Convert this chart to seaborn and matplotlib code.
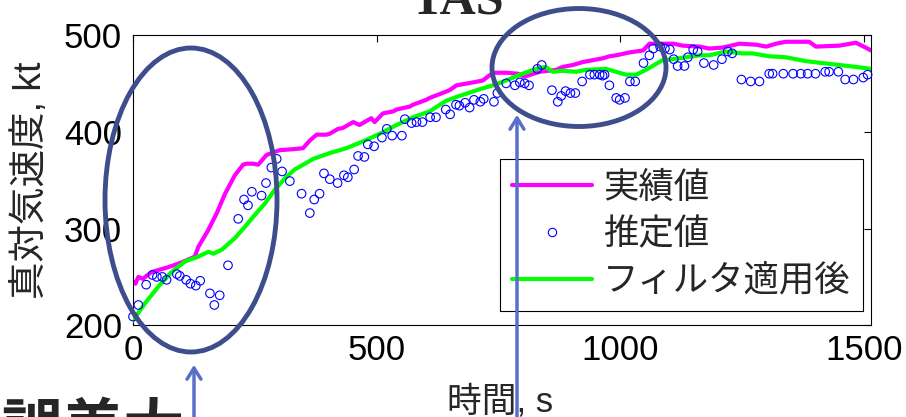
import numpy as np
import pandas as pd
import seaborn as sns
import matplotlib
matplotlib.use("Agg")
import matplotlib.pyplot as plt
from matplotlib.patches import Ellipse, FancyArrowPatch
from matplotlib.lines import Line2D

# === dados ===
# 実績値 (linha magenta)
act_t = [0, 5, 11, 20, 38, 72, 100, 127, 134, 154, 172, 189, 209, 226, 233, 247, 257, 274, 290, 301,
         329, 349, 363, 377, 397, 404, 421, 431, 452, 465, 475, 489, 496, 513, 534, 541, 568, 575, 602, 609,
         630, 650, 664, 698, 718, 739, 766, 790, 804, 835, 869, 882, 903, 923, 944, 965, 978, 992, 1019, 1047,
         1060, 1087, 1110, 1128, 1163, 1183, 1210, 1245, 1279, 1300, 1320, 1340, 1388, 1402, 1450, 1484, 1508, 1515]
act_v = [245, 243, 250, 248, 255, 260, 265, 271, 281, 298, 316, 336, 355, 366, 367, 367, 366, 376, 379, 381,
         382, 383, 391, 397, 397, 398, 403, 404, 410, 407, 410, 414, 410, 419, 421, 423, 426, 428, 433, 435,
         439, 443, 448, 451, 453, 461, 461, 460, 457, 462, 464, 467, 469, 472, 474, 476, 478, 479, 482, 484,
         491, 491, 491, 489, 488, 486, 487, 491, 490, 488, 491, 493, 493, 488, 489, 492, 486, 484]

# 推定値 (círculos azuis)
est_t = [0, 11, 27, 40, 49, 60, 69, 90, 96, 109, 118, 129, 138, 158, 167, 178, 195, 216, 228, 236,
         244, 264, 273, 284, 295, 306, 322, 346, 363, 372, 383, 392, 404, 420, 433, 441, 454, 462, 475, 482,
         495, 511, 521, 532, 552, 558, 572, 582, 594, 610, 622, 642, 651, 663, 670, 682, 691, 700, 713, 720,
         741, 748, 766, 784, 794, 804, 813, 830, 839, 860, 872, 879, 888, 898, 908, 922, 938, 947, 958, 964,
         968, 978, 992, 999, 1010, 1020, 1031, 1048, 1060, 1068, 1082, 1092, 1102, 1110, 1118, 1132, 1139, 1150, 1159, 1172,
         1192, 1209, 1221, 1230, 1249, 1268, 1286, 1306, 1313, 1335, 1355, 1371, 1385, 1401, 1421, 1429, 1448, 1462, 1479, 1499,
         1508]
est_v = [209, 221, 242, 252, 250, 250, 247, 253, 251, 247, 243, 241, 246, 233, 221, 231, 262, 310, 330, 324,
         338, 334, 347, 363, 372, 359, 349, 336, 316, 330, 336, 357, 351, 347, 355, 353, 361, 375, 374, 387,
         385, 394, 403, 396, 396, 413, 409, 410, 410, 415, 415, 423, 418, 428, 427, 430, 425, 433, 431, 434,
         431, 440, 450, 448, 451, 450, 448, 465, 469, 443, 431, 437, 442, 440, 440, 452, 459, 459, 459, 458,
         459, 448, 435, 433, 435, 452, 452, 471, 479, 486, 488, 486, 485, 475, 468, 468, 477, 485, 483, 471,
         469, 475, 483, 481, 454, 452, 452, 460, 460, 460, 460, 460, 460, 460, 462, 462, 462, 454, 454, 456,
         459]

# フィルタ適用後 (linha verde)
flt_t = [0, 25, 52, 79, 107, 134, 155, 165, 182, 209, 230, 250, 271, 291, 312, 332, 353, 370, 404, 438,
         472, 507, 541, 575, 609, 630, 643, 670, 712, 739, 766, 794, 828, 847, 862, 882, 910, 930, 971, 1012,
         1033, 1053, 1087, 1108, 1135, 1163, 1183, 1217, 1251, 1272, 1306, 1340, 1381, 1415, 1450, 1484, 1515]
flt_v = [205, 223, 240, 255, 266, 271, 276, 274, 278, 290, 302, 314, 326, 340, 352, 361, 367, 372, 378, 383,
         390, 398, 407, 415, 421, 428, 432, 437, 444, 448, 453, 459, 465, 467, 462, 463, 462, 464, 465, 459,
         459, 464, 474, 475, 477, 479, 479, 483, 481, 481, 478, 477, 473, 471, 469, 467, 465]

df_act = pd.DataFrame({"t": act_t, "v": act_v})
df_est = pd.DataFrame({"t": est_t, "v": est_v})
df_flt = pd.DataFrame({"t": flt_t, "v": flt_v})

sns.set_theme(style="white")
plt.rcParams["font.family"] = ["Liberation Sans", "Noto Sans CJK JP", "DejaVu Sans"]

W, H = 906, 417
fig = plt.figure(figsize=(W / 100, H / 100), dpi=100)
ax = fig.add_axes([133 / W, 1 - 325.3 / H, (871 - 133) / W, (325.3 - 35) / H])

sns.lineplot(data=df_act, x="t", y="v", color="#FF00FF", linewidth=3, ax=ax, zorder=2)
sns.lineplot(data=df_flt, x="t", y="v", color="#00FF00", linewidth=3, ax=ax, zorder=3)
sns.scatterplot(data=df_est, x="t", y="v", marker="o", s=38, facecolors="none",
                edgecolor="#0000FF", linewidth=0.8, ax=ax, zorder=4, clip_on=False)

ax.set_xlim(0, 1515)
ax.set_ylim(200, 500)
ax.set_xticks([0, 500, 1000, 1500])
ax.set_yticks([200, 300, 400, 500])
ax.tick_params(direction="in", top=True, right=True, length=5, width=0.8,
               labelsize=25, colors="black")
ax.tick_params(axis="x", pad=6)
ax.tick_params(axis="y", pad=8)
for s in ax.spines.values():
    s.set_color("black")
    s.set_linewidth(0.8)

ax.set_xlabel("時間, s", fontsize=25)
ax.xaxis.set_label_coords((500 - 133) / 738, -0.205)
ax.set_ylabel("")
fig.text(31 / W, 1 - 180 / H, "真対気速度, kt", fontsize=27, rotation=90,
         ha="center", va="center")

# legenda
handles = [Line2D([], [], color="#FF00FF", lw=3),
           Line2D([], [], color="#0000FF", marker="o", ls="none", markerfacecolor="none",
                  markersize=6, markeredgewidth=0.8),
           Line2D([], [], color="#00FF00", lw=3)]
leg = ax.legend(handles, ["実績値", "推定値", "フィルタ適用後"], fontsize=25.5,
                loc="upper left", bbox_to_anchor=(500 / W, 1 - 159 / H),
                bbox_transform=fig.transFigure, frameon=True, fancybox=False,
                edgecolor="black", framealpha=1, borderpad=0.35, handlelength=2.25,
                handletextpad=0.3, labelspacing=0.38, borderaxespad=0)
leg.get_frame().set_linewidth(0.8)

# título e textos cortados
fig.text(457 / W, 1 - 13 / H, "TAS", fontsize=36, fontweight="bold",
         family="Liberation Serif", ha="center", va="baseline")
fig.text(185 / W, 1 - 401 / H, "誤差大", fontsize=44, fontweight="bold",
         family=["Noto Sans CJK JP"], ha="right", va="top")

# elipses e setas
px = fig.dpi_scale_trans
fig.add_artist(Ellipse((191 / 100, (H - 200) / 100), 1.72, 3.04, transform=px,
                       fill=False, edgecolor="#3E4D8C", linewidth=3.5, zorder=10))
fig.add_artist(Ellipse((579 / 100, (H - 67.5) / 100), 1.74, 1.18, transform=px,
                       fill=False, edgecolor="#3E4D8C", linewidth=3.5, zorder=10))
for x0, ytip in [(194, 362), (517, 112)]:
    fig.add_artist(FancyArrowPatch(
        (x0 / 100, -0.1), (x0 / 100, (H - ytip) / 100), transform=px,
        arrowstyle="->,head_length=8,head_width=5", color="#5A6FC9",
        linewidth=2.5, zorder=11))

fig.savefig("out.png", dpi=100)
